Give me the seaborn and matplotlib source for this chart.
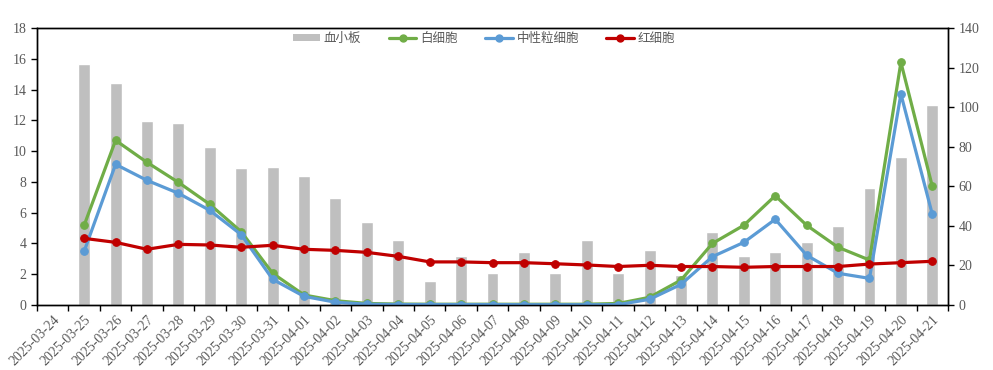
import numpy as np
import pandas as pd
import matplotlib
matplotlib.use("Agg")
import matplotlib.pyplot as plt
import seaborn as sns
from matplotlib.patches import Patch
from matplotlib.lines import Line2D
from matplotlib.ticker import MultipleLocator, FixedLocator

sns.set_theme(style="white")
plt.rcParams['font.family'] = ['Liberation Serif', 'Noto Sans CJK SC', 'DejaVu Sans']

dates = ["2025-03-24", "2025-03-25", "2025-03-26", "2025-03-27", "2025-03-28", "2025-03-29",
         "2025-03-30", "2025-03-31", "2025-04-01", "2025-04-02", "2025-04-03", "2025-04-04",
         "2025-04-05", "2025-04-06", "2025-04-07", "2025-04-08", "2025-04-09", "2025-04-10",
         "2025-04-11", "2025-04-12", "2025-04-13", "2025-04-14", "2025-04-15", "2025-04-16",
         "2025-04-17", "2025-04-18", "2025-04-19", "2025-04-20", "2025-04-21"]

platelet = [np.nan, 122, 112, 93, 92, 80, 69, 70, 65, 54, 42, 33, 12, 25, 16, 27, 16, 33,
            16, 28, 15, 37, 25, 27, 32, 40, 59, 75, 101]
wbc = [np.nan, 5.18, 10.7, 9.27, 7.97, 6.54, 4.76, 2.06, 0.65, 0.28, 0.1, 0.06, 0.05, 0.05,
       0.05, 0.05, 0.05, 0.05, 0.1, 0.5, 1.62, 4.0, 5.18, 7.1, 5.18, 3.75, 2.92, 15.77, 7.71]
neut = [np.nan, 3.49, 9.14, 8.1, 7.26, 6.15, 4.57, 1.67, 0.56, 0.18, 0.05, 0.03, 0.03, 0.03,
        0.03, 0.02, 0.02, 0.02, 0.02, 0.37, 1.34, 3.14, 4.07, 5.57, 3.23, 2.06, 1.73, 13.71, 5.89]
rbc = [np.nan, 4.33, 4.07, 3.62, 3.94, 3.9, 3.75, 3.88, 3.62, 3.55, 3.42, 3.16, 2.8, 2.8,
       2.75, 2.75, 2.68, 2.6, 2.5, 2.58, 2.5, 2.5, 2.45, 2.5, 2.5, 2.5, 2.66, 2.75, 2.84]

legend_labels = ["血小板", "白细胞", "中性粒细胞", "红细胞"]
c_bar, c_wbc, c_neut, c_rbc = "#BFBFBF", "#70AD47", "#5B9BD5", "#C00000"

df = pd.DataFrame({"date": dates, "platelet": platelet, "wbc": wbc, "neut": neut, "rbc": rbc})
df["pos"] = np.arange(len(dates))

fig = plt.figure(figsize=(9.93, 3.70), dpi=100)
ax = fig.add_axes([0.0373, 0.1757, 0.9174, 0.7486])
ax2 = ax.twinx()

sns.barplot(data=df, x="date", y="platelet", order=dates, color=c_bar, width=0.38,
            saturation=1, ax=ax2, errorbar=None)

for col, c in [("wbc", c_wbc), ("neut", c_neut), ("rbc", c_rbc)]:
    sns.lineplot(data=df, x="pos", y=col, color=c, marker="o", markersize=5.5,
                 markeredgecolor=c, linewidth=2.3, ax=ax, legend=False)

ax.set_zorder(ax2.get_zorder() + 1)
ax.patch.set_visible(False)

ax.set_xlim(-0.5, len(dates) - 0.5)
ax.set_ylim(0, 18)
ax2.set_ylim(0, 140)
ax.yaxis.set_major_locator(MultipleLocator(2))
ax2.yaxis.set_major_locator(MultipleLocator(20))

ax.set_xticks(np.arange(len(dates)))
ax.set_xticklabels(dates, rotation=45, ha="right", rotation_mode="anchor")
ax.xaxis.set_minor_locator(FixedLocator(np.arange(-0.5, len(dates), 1.0)))
ax.tick_params(axis="x", which="major", length=0, pad=6, labelsize=10, labelcolor="#595959")
ax.tick_params(axis="x", which="minor", length=4, width=1, direction="out", color="black", bottom=True)
ax.tick_params(axis="y", length=4, width=1, direction="out", color="black", labelsize=10,
               labelcolor="#595959", left=True)
ax2.tick_params(axis="y", length=4, width=1, direction="out", color="black", labelsize=10,
                labelcolor="#595959", right=True)
ax2.tick_params(axis="x", length=0)
ax2.set_xlabel("")
ax.set_xlabel("")
ax.set_ylabel("")
ax2.set_ylabel("")

for a in (ax, ax2):
    for s in a.spines.values():
        s.set_color("black")
        s.set_linewidth(1)
        s.set_visible(True)

handles = [Patch(facecolor=c_bar, edgecolor="none"),
           Line2D([], [], color=c_wbc, lw=2.3, marker="o", ms=5),
           Line2D([], [], color=c_neut, lw=2.3, marker="o", ms=5),
           Line2D([], [], color=c_rbc, lw=2.3, marker="o", ms=5)]
leg = fig.legend(handles, legend_labels, ncol=4, frameon=False, loc="center",
                 bbox_to_anchor=(0.4874, 0.896), prop={"family": ["Noto Sans CJK SC", "DejaVu Sans"], "size": 9},
                 handlelength=2.2, handleheight=0.5, handletextpad=0.3, columnspacing=2.2)
for t in leg.get_texts():
    t.set_color("#595959")

fig.savefig("out.png", dpi=100)
